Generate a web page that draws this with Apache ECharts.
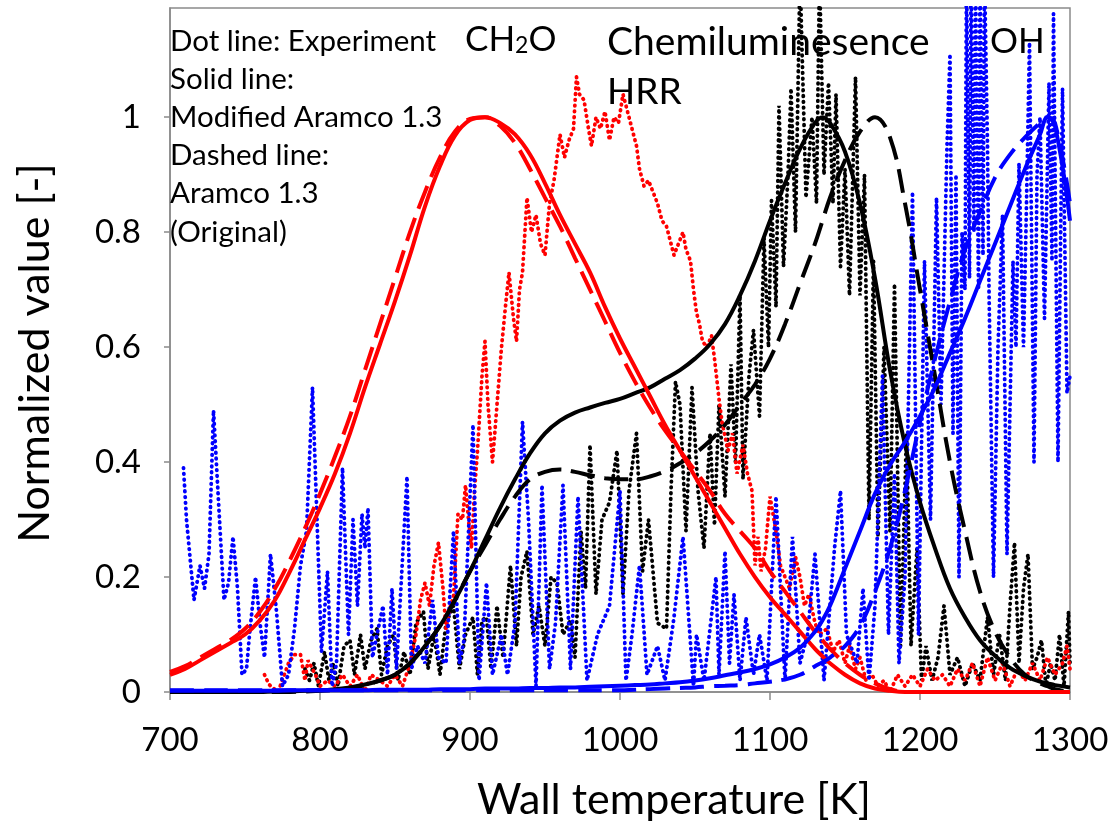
<!DOCTYPE html>
<html>
<head>
<meta charset="utf-8">
<script src="https://cdn.jsdelivr.net/npm/echarts@6/dist/echarts.min.js"></script>
<style>
html,body{margin:0;padding:0;background:#fff;}
#chart{width:1115px;height:837px;}
</style>
</head>
<body>
<div id="chart"></div>
<script>
// ---- Axis ticks ----
const xTicks = [700, 800, 900, 1000, 1100, 1200, 1300];
const yTicks = [0, 0.2, 0.4, 0.6, 0.8, 1];

// ---- Model curves (shared temperature grid) ----
const modelT = [700,710,720,730,740,750,760,770,780,790,800,810,820,830,840,850,860,870,880,890,900,910,920,930,940,950,960,970,980,990,1000,1010,1020,1030,1040,1050,1060,1070,1080,1090,1100,1110,1120,1130,1135,1140,1150,1160,1170,1180,1190,1200,1210,1220,1230,1240,1250,1260,1270,1280,1285,1290,1300];

const ch2oModified = [0.03,0.04,0.055,0.07,0.085,0.10,0.125,0.16,0.21,0.265,0.32,0.38,0.45,0.53,0.605,0.68,0.76,0.845,0.915,0.968,0.995,1.0,0.99,0.97,0.935,0.885,0.83,0.78,0.73,0.67,0.615,0.565,0.515,0.465,0.42,0.375,0.33,0.285,0.24,0.20,0.165,0.135,0.105,0.075,0.062,0.05,0.03,0.015,0.006,0.002,0,0,0,0,0,0,0,0,0,0,0,0,0];
const ch2oOriginal = [0.035,0.045,0.06,0.075,0.09,0.11,0.14,0.18,0.23,0.285,0.345,0.41,0.48,0.56,0.64,0.72,0.80,0.87,0.93,0.975,0.997,1.0,0.985,0.955,0.91,0.86,0.81,0.755,0.70,0.645,0.59,0.54,0.495,0.455,0.42,0.385,0.35,0.31,0.28,0.25,0.21,0.175,0.14,0.105,0.09,0.075,0.05,0.03,0.015,0.005,0,0,0,0,0,0,0,0,0,0,0,0,0];
const hrrModified = [0,0,0,0,0,0,0,0.001,0.001,0.002,0.003,0.005,0.008,0.013,0.02,0.03,0.05,0.08,0.115,0.16,0.21,0.265,0.32,0.37,0.415,0.45,0.472,0.486,0.495,0.503,0.51,0.52,0.53,0.545,0.56,0.58,0.605,0.64,0.69,0.75,0.82,0.885,0.945,0.99,1.0,0.99,0.94,0.85,0.72,0.56,0.43,0.33,0.25,0.18,0.13,0.09,0.063,0.042,0.028,0.018,0.015,0.012,0.008];
const hrrOriginal = [0,0,0,0,0,0,0,0,0,0.001,0.002,0.004,0.007,0.012,0.02,0.03,0.05,0.08,0.115,0.16,0.21,0.255,0.30,0.34,0.37,0.383,0.387,0.383,0.377,0.372,0.37,0.37,0.375,0.384,0.398,0.415,0.437,0.465,0.50,0.535,0.58,0.64,0.71,0.78,0.82,0.86,0.925,0.975,1.0,0.965,0.85,0.70,0.55,0.40,0.28,0.175,0.105,0.06,0.03,0.015,0.01,0.005,0];
const ohModified = [0.002,0.002,0.002,0.002,0.002,0.002,0.002,0.002,0.003,0.003,0.003,0.003,0.003,0.003,0.004,0.004,0.004,0.004,0.005,0.005,0.005,0.006,0.006,0.006,0.007,0.007,0.008,0.008,0.009,0.01,0.011,0.012,0.013,0.015,0.017,0.02,0.024,0.029,0.034,0.04,0.048,0.06,0.077,0.105,0.125,0.15,0.215,0.28,0.345,0.395,0.435,0.48,0.53,0.59,0.65,0.715,0.78,0.845,0.91,0.97,1.0,0.985,0.82];
const ohOriginal = [0.003,0.003,0.003,0.003,0.003,0.003,0.003,0.003,0.003,0.003,0.003,0.003,0.003,0.003,0.003,0.003,0.003,0.003,0.003,0.003,0.003,0.003,0.003,0.003,0.003,0.003,0.003,0.003,0.003,0.003,0.003,0.004,0.005,0.006,0.007,0.008,0.01,0.011,0.012,0.015,0.018,0.022,0.03,0.045,0.052,0.06,0.08,0.115,0.175,0.25,0.35,0.47,0.58,0.68,0.77,0.835,0.895,0.935,0.965,0.99,1.0,0.99,0.85];

// ---- Experiment (dotted) ----
const ch2oExpT = [763,766,772,779,783,787,790,792,797,800,805,810,815,820,825,830,834,840,845,850,855,860,864,867,870,873,876,879,882,884,887,889,892,895,897,899,901,903,905,908,910,912,915,918,921,924,926,929,931,933,935,938,941,944,947,950,953,956,958,960,963,966,969,971,973,976,979,981,984,987,990,993,996,999,1002,1005,1008,1011,1013,1016,1019,1022,1025,1028,1031,1034,1036,1039,1042,1044,1047,1049,1051,1053,1055,1058,1061,1063,1066,1068,1072,1075,1078,1082,1085,1088,1090,1092,1094,1097,1100,1104,1107,1110,1113,1117,1120,1123,1126,1130,1133,1138,1142,1146,1150,1153,1157,1160,1164,1168,1172,1176,1180,1185,1190,1195,1200,1205,1210,1215,1220,1225,1230,1235,1240,1245,1250,1255,1260,1265,1270,1275,1280,1285,1290,1295,1298,1300];
const ch2oExpV = [0.03,0.013,0.0,0.05,0.065,0.065,0.02,0.055,0.03,0.01,0.02,0.01,0.03,0.01,0.03,0.0,0.03,0.02,0.01,0.03,0.01,0.05,0.10,0.16,0.19,0.15,0.22,0.26,0.18,0.11,0.15,0.165,0.31,0.30,0.36,0.30,0.25,0.35,0.42,0.55,0.61,0.50,0.40,0.50,0.60,0.68,0.73,0.65,0.61,0.70,0.73,0.86,0.80,0.83,0.78,0.76,0.85,0.89,0.93,0.97,0.93,0.96,0.98,1.07,1.04,1.03,0.98,0.95,1.0,0.98,1.01,0.96,1.0,0.99,1.04,1.01,0.98,0.95,0.91,0.88,0.89,0.87,0.85,0.82,0.81,0.78,0.76,0.78,0.80,0.77,0.75,0.70,0.66,0.64,0.61,0.60,0.62,0.58,0.51,0.47,0.42,0.45,0.38,0.43,0.38,0.35,0.22,0.27,0.21,0.25,0.34,0.28,0.22,0.20,0.18,0.235,0.20,0.15,0.17,0.12,0.10,0.11,0.07,0.09,0.05,0.08,0.04,0.06,0.02,0.03,0.01,0.02,0.0,0.03,0.01,0.03,0.01,0.04,0.02,0.03,0.01,0.04,0.02,0.05,0.01,0.06,0.02,0.05,0.01,0.04,0.02,0.05,0.02,0.06,0.03,0.05,0.08,0.04];

const hrrExpT = [790,793,796,799,803,806,809,812,816,820,823,827,830,834,838,841,845,849,852,856,860,864,869,872,876,880,884,889,893,897,902,905,908,911,914,918,922,927,931,934,938,942,946,950,954,958,962,967,970,974,977,980,984,988,993,998,1002,1006,1011,1015,1019,1025,1031,1034,1037,1040,1044,1048,1052,1056,1060,1063,1066,1070,1074,1077,1080,1082,1086,1089,1093,1096,1099,1101,1104,1106,1109,1112,1114,1117,1120,1124,1128,1131,1133,1136,1139,1142,1144,1147,1150,1153,1157,1160,1163,1166,1169,1172,1176,1180,1183,1187,1191,1194,1198,1201,1204,1208,1212,1216,1220,1225,1230,1235,1240,1245,1249,1253,1257,1260,1263,1266,1269,1272,1275,1278,1281,1284,1287,1290,1293,1296,1299,1300];
const hrrExpV = [0.04,0.02,0.05,0.01,0.07,0.02,0.05,0.01,0.08,0.09,0.03,0.10,0.04,0.09,0.11,0.03,0.08,0.10,0.02,0.07,0.03,0.12,0.14,0.04,0.10,0.03,0.12,0.15,0.04,0.10,0.13,0.03,0.125,0.13,0.04,0.15,0.06,0.22,0.08,0.20,0.245,0.10,0.15,0.08,0.20,0.19,0.10,0.125,0.06,0.28,0.18,0.43,0.17,0.30,0.33,0.42,0.17,0.35,0.45,0.21,0.30,0.12,0.11,0.35,0.54,0.50,0.28,0.53,0.35,0.25,0.45,0.29,0.50,0.34,0.57,0.40,0.69,0.37,0.55,0.63,0.48,0.79,0.60,0.855,0.67,1.02,0.74,0.90,1.05,0.80,1.25,0.86,1.0,0.85,1.25,0.90,1.06,0.85,1.04,0.74,0.91,0.69,1.07,0.69,0.90,0.30,0.75,0.27,0.60,0.28,0.71,0.08,0.45,0.08,0.25,0.02,0.08,0.02,0.06,0.15,0.03,0.06,0.01,0.05,0.02,0.13,0.03,0.10,0.02,0.15,0.26,0.05,0.18,0.24,0.04,0.06,0.09,0.01,0.05,0.02,0.10,0.01,0.14,0.05];

const ohExpT = [709,711,716,720,723,726,729,733,736,739,742,745,748,751,753,757,760,763,767,771,775,779,783,787,791,795,798,801,805,808,811,815,819,822,825,828,830,832,835,838,842,845,848,851,858,861,865,870,875,879,884,889,893,896,902,906,911,915,921,925,930,935,939,944,948,953,957,962,967,972,978,985,993,1000,1004,1008,1013,1018,1025,1030,1036,1042,1049,1051,1056,1064,1066,1070,1073,1076,1080,1084,1089,1093,1098,1104,1110,1115,1120,1125,1130,1136,1143,1147,1151,1158,1162,1166,1170,1175,1179,1183,1186,1190,1195,1199,1203,1207,1211,1214,1218,1220,1222,1224,1226,1228,1230,1231,1233,1234,1236,1237,1239,1240,1242,1243,1245,1246,1249,1252,1255,1258,1262,1264,1266,1269,1271,1273,1276,1278,1280,1283,1286,1288,1289,1292,1294,1295,1298,1300];
const ohExpV = [0.39,0.30,0.16,0.22,0.18,0.24,0.49,0.30,0.16,0.19,0.27,0.18,0.03,0.04,0.10,0.20,0.12,0.06,0.24,0.14,0.01,0.03,0.11,0.22,0.28,0.53,0.30,0.07,0.21,0.01,0.05,0.39,0.10,0.30,0.15,0.31,0.25,0.32,0.06,0.10,0.15,0.03,0.18,0.04,0.375,0.04,0.08,0.05,0.16,0.06,0.05,0.28,0.05,0.09,0.465,0.02,0.19,0.03,0.10,0.03,0.12,0.47,0.30,0.01,0.36,0.04,0.12,0.36,0.04,0.34,0.02,0.10,0.15,0.35,0.02,0.10,0.22,0.03,0.08,0.02,0.13,0.27,0.01,0.10,0.02,0.20,0.03,0.245,0.05,0.17,0.02,0.13,0.03,0.10,0.02,0.34,0.02,0.27,0.05,0.10,0.24,0.02,0.25,0.35,0.10,0.05,0.18,0.02,0.15,0.55,0.10,0.38,0.05,0.20,0.87,0.10,0.75,0.30,0.86,0.50,0.95,1.11,0.45,0.90,0.20,0.80,0.70,1.25,0.72,1.25,0.80,1.25,0.70,1.25,0.76,1.25,0.95,0.70,0.20,0.60,0.83,0.24,0.75,0.60,0.92,0.60,0.85,1.13,0.40,0.90,1.0,0.65,1.06,0.75,1.18,0.40,0.85,1.05,0.52,0.55];

const FONT = 'Lato';
const zip = (xs, ys) => xs.map((x, i) => [x, ys[i]]);
const dotStyle = c => ({ color: c, width: 3.8, type: [0.6, 5.2], cap: 'round' });

const chart = echarts.init(document.getElementById('chart'), null, { renderer: 'canvas' });
const option = {
  animation: false,
  backgroundColor: '#fff',
  grid: { left: 170, right: 45, top: 8, bottom: 145, show: true, borderColor: '#8a8a8a', borderWidth: 1.5, backgroundColor: 'transparent' },
  xAxis: {
    type: 'value', min: xTicks[0], max: xTicks[xTicks.length - 1], interval: 100,
    axisLine: { lineStyle: { color: '#8a8a8a', width: 1.5 } },
    axisTick: { show: true, length: 8, lineStyle: { color: '#8a8a8a', width: 1.5 } },
    axisLabel: { fontFamily: FONT, fontSize: 33, color: '#000', margin: 32, formatter: v => String(v) },
    splitLine: { show: false }
  },
  yAxis: {
    type: 'value', min: 0, max: 1.19, interval: 0.2,
    axisLine: { show: true, lineStyle: { color: '#8a8a8a', width: 1.5 } },
    axisTick: { show: true, length: 6, lineStyle: { color: '#8a8a8a', width: 1.5 } },
    axisLabel: { fontFamily: FONT, fontSize: 33, color: '#000', margin: 29, showMaxLabel: false,
      formatter: v => (v > 1.001 ? '' : String(yTicks.find(t => Math.abs(t - v) < 1e-6) ?? v)) },
    splitLine: { show: false }
  },
  series: [
    { type: 'line', name: 'HRR exp', data: zip(hrrExpT, hrrExpV), showSymbol: false, lineStyle: dotStyle('#000000'), z: 2 },
    { type: 'line', name: 'CH2O exp', data: zip(ch2oExpT, ch2oExpV), showSymbol: false, lineStyle: dotStyle('#ff0000'), z: 2 },
    { type: 'line', name: 'OH exp', data: zip(ohExpT, ohExpV), showSymbol: false, lineStyle: dotStyle('#0000ff'), z: 2 },
    { type: 'line', name: 'HRR original', data: zip(modelT, hrrOriginal), showSymbol: false, smooth: 0.4, lineStyle: { color: '#000', width: 4, type: [24, 10] }, z: 3 },
    { type: 'line', name: 'HRR modified', data: zip(modelT, hrrModified), showSymbol: false, smooth: 0.4, lineStyle: { color: '#000', width: 4 }, z: 3 },
    { type: 'line', name: 'CH2O original', data: zip(modelT, ch2oOriginal), showSymbol: false, smooth: 0.4, lineStyle: { color: '#ff0000', width: 4, type: [24, 10] }, z: 4 },
    { type: 'line', name: 'CH2O modified', data: zip(modelT, ch2oModified), showSymbol: false, smooth: 0.4, lineStyle: { color: '#ff0000', width: 4 }, z: 4 },
    { type: 'line', name: 'OH original', data: zip(modelT, ohOriginal), showSymbol: false, smooth: 0.4, lineStyle: { color: '#0000ff', width: 4, type: [24, 10] }, z: 5 },
    { type: 'line', name: 'OH modified', data: zip(modelT, ohModified), showSymbol: false, smooth: 0.4, lineStyle: { color: '#0000ff', width: 4 }, z: 5 }
  ],
  graphic: [
    { type: 'text', x: 674, y: 800, z: 10,
      style: { text: 'Wall temperature [K]', font: '43px ' + FONT, fill: '#000', align: 'center', verticalAlign: 'middle' } },
    { type: 'text', x: 35, y: 353, rotation: Math.PI / 2, z: 10,
      style: { text: 'Normalized value [-]', font: '43px ' + FONT, fill: '#000', align: 'center', verticalAlign: 'middle' } },
    { type: 'text', left: 170, top: 22, z: 10,
      style: { text: 'Dot line: Experiment\nSolid line:\nModified Aramco 1.3\nDashed line:\nAramco 1.3\n(Original)', font: '29.5px ' + FONT, fill: '#000', lineHeight: 38.2 } },
    { type: 'text', left: 465, top: 22, z: 10,
      style: { text: '{a|CH}{b|2}{a|O}', fill: '#000',
        rich: { a: { fontFamily: FONT, fontSize: 35, lineHeight: 40, verticalAlign: 'bottom' },
                b: { fontFamily: FONT, fontSize: 23, lineHeight: 40, verticalAlign: 'bottom' } } } },
    { type: 'text', x: 607, y: 42, z: 10,
      style: { text: 'Chemiluminesence', font: '39px ' + FONT, fill: '#000', verticalAlign: 'middle' } },
    { type: 'text', x: 607, y: 92, z: 10,
      style: { text: 'HRR', font: '37px ' + FONT, fill: '#000', verticalAlign: 'middle' } },
    { type: 'text', x: 990, y: 42, z: 10,
      style: { text: 'OH', font: '35px ' + FONT, fill: '#000', verticalAlign: 'middle' } }
  ]
};
chart.setOption(option);
</script>
</body>
</html>
